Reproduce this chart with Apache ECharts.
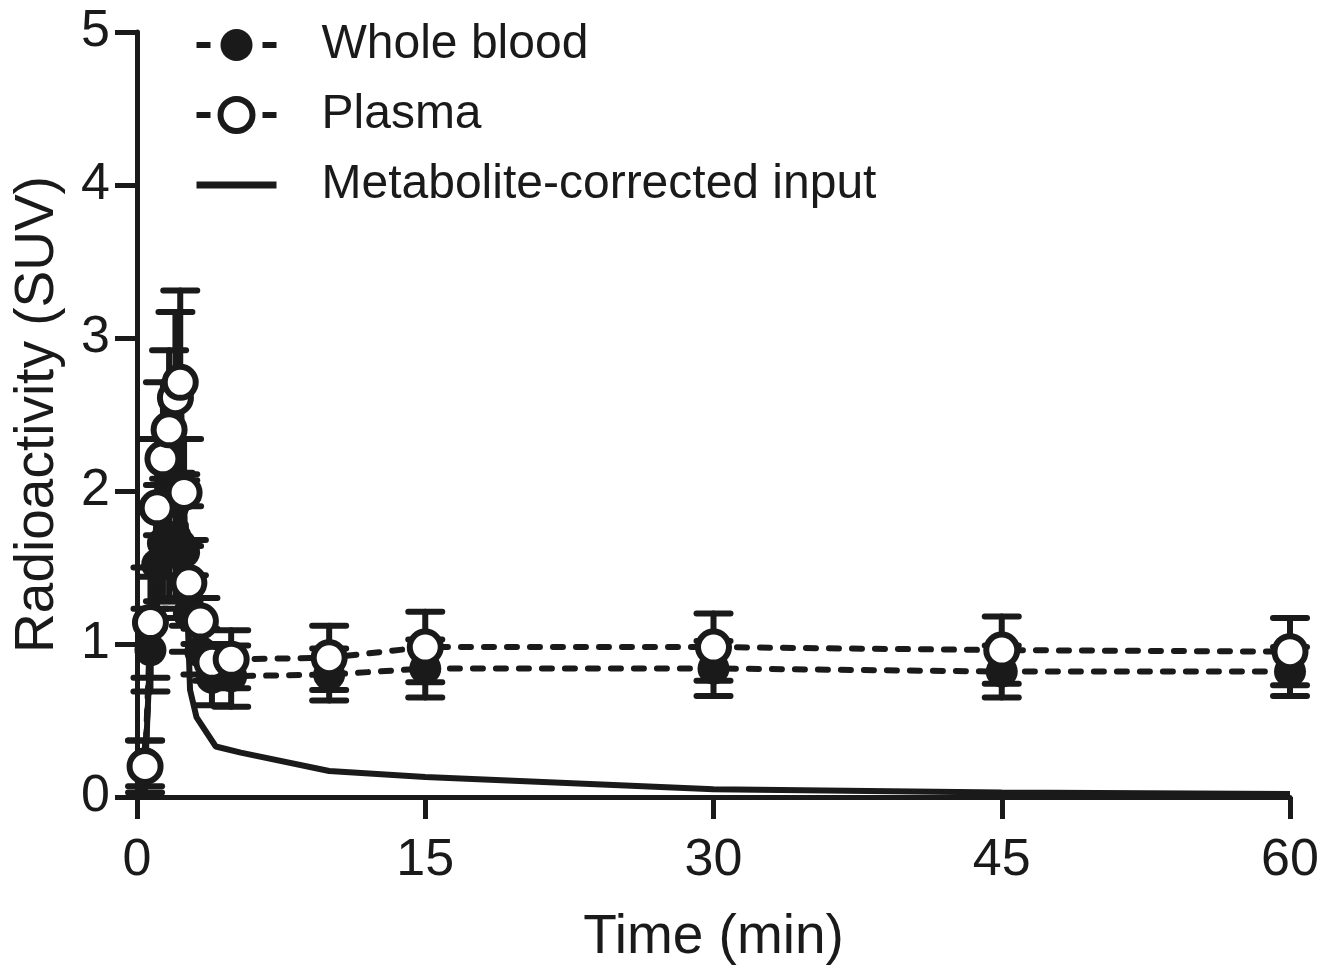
<!DOCTYPE html>
<html>
<head>
<meta charset="utf-8">
<script src="https://cdn.jsdelivr.net/npm/echarts@6/dist/echarts.min.js"></script>
<style>
  html, body { margin: 0; padding: 0; background: #fff; }
  #chart { width: 1336px; height: 973px; }
</style>
</head>
<body>
<div id="chart"></div>
<script>
// sampling times (min)
const times = [0.42, 0.7, 1.05, 1.35, 1.67, 2.0, 2.25, 2.45, 2.7, 3.3, 3.9, 4.9, 10, 15, 30, 45, 60];

// whole blood mean / sd (SUV)
const bloodMean = [0.22, 0.96, 1.52, 1.66, 1.68, 1.7, 1.65, 1.6, 1.2, 0.95, 0.78, 0.79, 0.8, 0.84, 0.84, 0.82, 0.82];
const bloodSd = [0.15, 0.27, 0.35, 0.38, 0.4, 0.42, 0.42, 0.3, 0.25, 0.15, 0.18, 0.2, 0.17, 0.19, 0.18, 0.17, 0.16];

// plasma mean / sd (SUV)
const plasmaMean = [0.2, 1.14, 1.89, 2.21, 2.4, 2.61, 2.71, 1.99, 1.4, 1.15, 0.88, 0.9, 0.91, 0.98, 0.98, 0.96, 0.95];
const plasmaSd = [0.17, 0.36, 0.45, 0.5, 0.52, 0.56, 0.6, 0.35, 0.28, 0.15, 0.12, 0.19, 0.21, 0.23, 0.22, 0.22, 0.22];

// metabolite-corrected input curve
const inputTimes = [0, 0.42, 0.7, 1.05, 1.35, 1.67, 2.0, 2.25, 2.45, 2.76, 3.1, 4.1, 5.4, 10, 15, 30, 45, 60];
const inputValues = [0, 0.15, 1.0, 1.75, 2.1, 2.3, 2.5, 2.6, 1.9, 0.7, 0.52, 0.33, 0.29, 0.17, 0.13, 0.05, 0.03, 0.02];

const xTicks = [0, 15, 30, 45, 60];
const yTicks = [0, 1, 2, 3, 4, 5];

const ink = '#1a1a1a';
const font = 'Liberation Sans, Arial, sans-serif';

const pairs = (xs, ys) => xs.map((x, i) => [x, ys[i]]);
const errData = (mean, sd) => times.map((t, i) => [t, mean[i] - sd[i], mean[i] + sd[i]]);

function errorBars(params, api) {
  const x = api.value(0);
  const lo = api.coord([x, api.value(1)]);
  const hi = api.coord([x, api.value(2)]);
  const w = 17;
  const st = { stroke: ink, lineWidth: 6, lineCap: 'round' };
  return {
    type: 'group',
    children: [
      { type: 'line', shape: { x1: hi[0], y1: hi[1], x2: lo[0], y2: lo[1] }, style: st },
      { type: 'line', shape: { x1: hi[0] - w, y1: hi[1], x2: hi[0] + w, y2: hi[1] }, style: st },
      { type: 'line', shape: { x1: lo[0] - w, y1: lo[1], x2: lo[0] + w, y2: lo[1] }, style: st }
    ]
  };
}

const legendDash = { type: [14, 52], width: 6, cap: 'butt' };

const chart = echarts.init(document.getElementById('chart'));

const options = {
  animation: false,
  grid: { left: 137, top: 32, right: 46, bottom: 176 },
  legend: {
    data: [
      { name: 'Whole blood', lineStyle: legendDash },
      { name: 'Plasma', lineStyle: legendDash, itemStyle: { color: '#fff', borderColor: ink, borderWidth: 6 } },
      { name: 'Metabolite-corrected input', itemStyle: { opacity: 0 }, lineStyle: { width: 7, type: 'solid' } }
    ],
    orient: 'vertical',
    left: 188,
    top: 16,
    itemWidth: 80,
    itemHeight: 40,
    itemGap: 22,
    textStyle: { fontFamily: font, fontSize: 48, color: ink, padding: [0, 0, 0, 40] }
  },
  xAxis: {
    type: 'value',
    min: 0,
    max: 60,
    interval: 15,
    name: 'Time (min)',
    nameLocation: 'middle',
    nameGap: 113,
    nameTextStyle: { fontFamily: font, fontSize: 55, color: ink },
    splitLine: { show: false },
    axisLine: { lineStyle: { color: ink, width: 5 } },
    axisTick: { length: 22, lineStyle: { color: ink, width: 5 } },
    axisLabel: {
      fontFamily: font, fontSize: 52, color: ink, margin: 38,
      formatter: v => xTicks.includes(v) ? String(v) : ''
    }
  },
  yAxis: {
    type: 'value',
    min: 0,
    max: 5,
    interval: 1,
    name: 'Radioactivity (SUV)',
    nameLocation: 'middle',
    nameGap: 72,
    nameTextStyle: { fontFamily: font, fontSize: 55, color: ink },
    splitLine: { show: false },
    axisLine: { show: true, lineStyle: { color: ink, width: 5 } },
    axisTick: { show: true, length: 22, lineStyle: { color: ink, width: 5 } },
    axisLabel: {
      fontFamily: font, fontSize: 52, color: ink, margin: 27,
      formatter: v => yTicks.includes(v) ? String(v) : ''
    }
  },
  series: [
    {
      name: 'blood err',
      type: 'custom',
      renderItem: errorBars,
      encode: { x: 0, y: [1, 2] },
      data: errData(bloodMean, bloodSd),
      z: 1
    },
    {
      name: 'plasma err',
      type: 'custom',
      renderItem: errorBars,
      encode: { x: 0, y: [1, 2] },
      data: errData(plasmaMean, plasmaSd),
      z: 1
    },
    {
      name: 'Metabolite-corrected input',
      type: 'line',
      data: pairs(inputTimes, inputValues),
      showSymbol: false,
      symbol: 'none',
      lineStyle: { color: ink, width: 6 },
      itemStyle: { color: ink },
      z: 2
    },
    {
      name: 'Whole blood',
      type: 'line',
      data: pairs(times, bloodMean),
      symbol: 'circle',
      symbolSize: 32,
      lineStyle: { color: ink, width: 6, type: [10, 13], cap: 'round' },
      itemStyle: { color: ink, borderColor: ink, borderWidth: 0 },
      z: 3
    },
    {
      name: 'Plasma',
      type: 'line',
      data: pairs(times, plasmaMean),
      symbol: 'circle',
      symbolSize: 31,
      lineStyle: { color: ink, width: 6, type: [10, 13], cap: 'round' },
      itemStyle: { color: '#fff', borderColor: ink, borderWidth: 6 },
      z: 4
    }
  ]
};

chart.setOption(options);
</script>
</body>
</html>
